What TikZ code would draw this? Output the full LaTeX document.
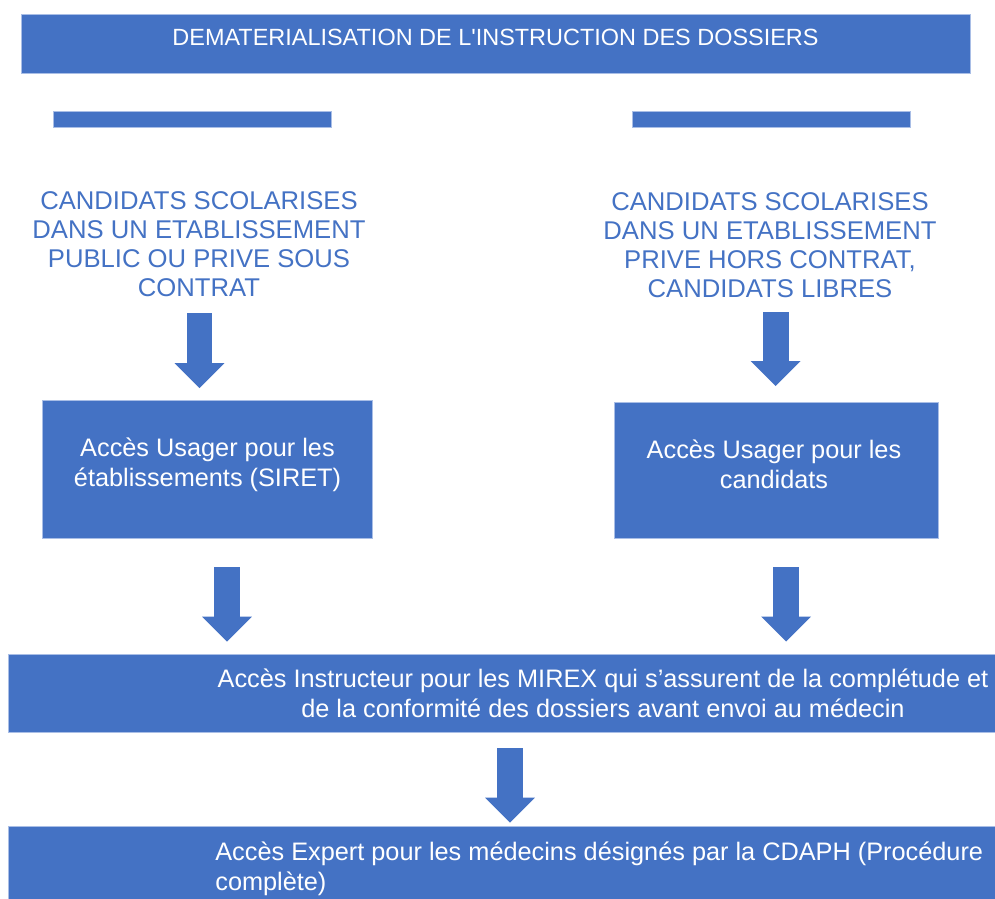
\documentclass[tikz,border=0pt]{standalone}
\usepackage{fontspec}
\setmainfont{Liberation Sans}
\usepackage{xcolor}
\definecolor{boxblue}{HTML}{4472C4}
\definecolor{boxedge}{HTML}{A9BEE6}
\usepackage{tikz}
\usetikzlibrary{arrows.meta}
\usetikzlibrary{positioning,calc}

\begin{document}
\begin{tikzpicture}[x=0.02cm,y=-0.02cm,
		bloc/.style={rectangle,fill=boxblue,draw=boxedge,line width=0.4pt,inner sep=0pt},
		blanc/.style={text=white,font=\fontsize{14.4}{17}\selectfont,align=center,inner sep=0pt},
		bleu/.style={text=boxblue,font=\fontsize{14.6}{16.5}\selectfont,align=center,inner sep=0pt},
		fleche/.style={draw=boxblue,line width=0.52cm,-{Triangle[width=1cm,length=0.5cm,line width=0pt]}}]
	\useasboundingbox (0,0) rectangle (995,899);
	% blocs
	\node[bloc,minimum width=18.98cm,minimum height=1.18cm] (titre) at (495.5,43.5) {};
	\node[bloc,minimum width=5.56cm,minimum height=0.32cm] (barreG) at (192,119) {};
	\node[bloc,minimum width=5.56cm,minimum height=0.32cm] (barreD) at (771,119) {};
	\node[bloc,minimum width=6.6cm,minimum height=2.76cm] (usagerG) at (207,469) {};
	\node[bloc,minimum width=6.48cm,minimum height=2.72cm] (usagerD) at (776,470) {};
	\node[bloc,minimum width=19.74cm,minimum height=1.56cm] (instructeur) at (501.5,693) {};
	\node[bloc,minimum width=19.74cm,minimum height=1.58cm] (expert) at (501.5,865.5) {};
	% textes
	\node[blanc,font=\fontsize{13.35}{16}\selectfont] (titreT) at (495.5,37) {DEMATERIALISATION DE L\textquotesingle INSTRUCTION DES DOSSIERS};
	\node[bleu] (candG) at (199,244) {CANDIDATS SCOLARISES\\DANS UN ETABLISSEMENT\\PUBLIC OU PRIVE SOUS\\CONTRAT};
	\node[bleu] (candD) at (770,245.5) {CANDIDATS SCOLARISES\\DANS UN ETABLISSEMENT\\PRIVE HORS CONTRAT,\\CANDIDATS LIBRES};
	\node[blanc] (usagerGT) at (207.5,465) {Accès Usager pour les\\établissements (SIRET)};
	\node[blanc] (usagerDT) at (774,464.6) {Accès Usager pour les\\candidats};
	\node[blanc] (instructeurT) at (603,693) {Accès Instructeur pour les MIREX qui s’assurent de la complétude et\\de la conformité des dossiers avant envoi au médecin};
	\node[blanc,align=left,anchor=west] (expertT) at (215,869) {Accès Expert pour les médecins désignés par la CDAPH (Procédure\\complète)};
	% fleches
	\coordinate (f1a) at (199.5,313);
	\coordinate (f1b) at (199.5,388);
	\coordinate (f2a) at (775.5,312);
	\coordinate (f2b) at (775.5,386);
	\coordinate (f3a) at (227,567);
	\coordinate (f3b) at (227,641.5);
	\coordinate (f4a) at (786,567);
	\coordinate (f4b) at (786,641.5);
	\coordinate (f5a) at (510,748);
	\coordinate (f5b) at (510,822.5);
	\draw[fleche] (f1a) -- (f1b);
	\draw[fleche] (f2a) -- (f2b);
	\draw[fleche] (f3a) -- (f3b);
	\draw[fleche] (f4a) -- (f4b);
	\draw[fleche] (f5a) -- (f5b);
\end{tikzpicture}
\end{document}
